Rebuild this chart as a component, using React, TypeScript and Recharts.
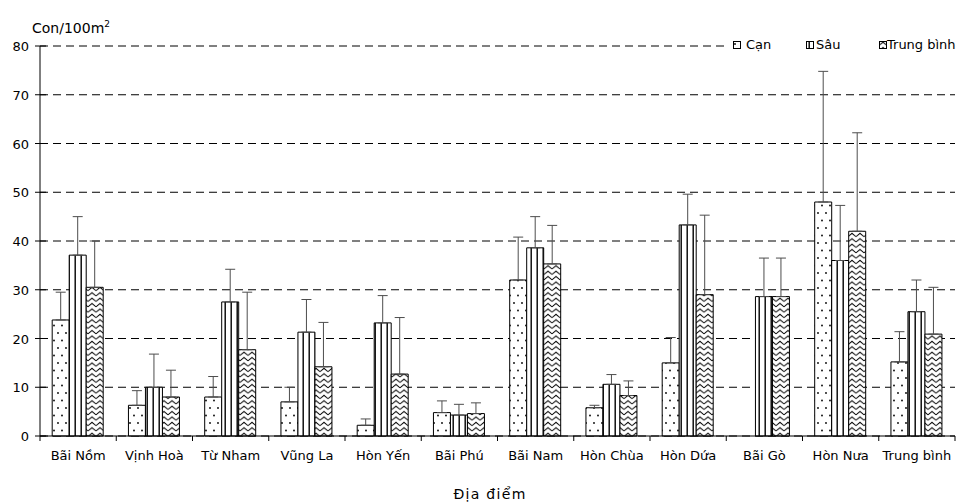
import { BarChart, Bar, XAxis, YAxis, CartesianGrid, ErrorBar, Legend } from "recharts";

const sites = [
  "Bãi Nồm", "Vịnh Hoà", "Từ Nham", "Vũng La", "Hòn Yến", "Bãi Phú",
  "Bãi Nam", "Hòn Chùa", "Hòn Dứa", "Bãi Gò", "Hòn Nưa", "Trung bình",
];

// mean density (con/100m2) and upper standard deviation per site
const can = [23.8, 6.3, 8.0, 7.0, 2.2, 4.8, 32.0, 5.8, 15.0, null, 48.0, 15.2];
const canSd = [5.7, 3.0, 4.2, 3.0, 1.3, 2.4, 8.8, 0.5, 5.2, null, 26.8, 6.2];
const sau = [37.1, 10.0, 27.5, 21.3, 23.2, 4.3, 38.6, 10.6, 43.3, 28.6, 36.0, 25.5];
const sauSd = [7.9, 6.8, 6.7, 6.7, 5.6, 2.2, 6.4, 2.0, 6.3, 7.9, 11.3, 6.5];
const tb = [30.5, 8.0, 17.7, 14.2, 12.7, 4.6, 35.3, 8.3, 29.0, 28.6, 42.0, 20.9];
const tbSd = [9.5, 5.5, 11.8, 9.1, 11.6, 2.2, 7.9, 3.0, 16.3, 7.9, 20.2, 9.6];

const yTicks = [0, 10, 20, 30, 40, 50, 60, 70, 80];

const series = [
  { key: "can", name: "Cạn", fill: "url(#pat-dots)" },
  { key: "sau", name: "Sâu", fill: "url(#pat-vlines)" },
  { key: "tb", name: "Trung bình", fill: "url(#pat-wave)" },
];

const data = sites.map((site, i) => ({
  site,
  can: can[i],
  canSd: can[i] == null ? undefined : [0, canSd[i]],
  sau: sau[i],
  sauSd: [0, sauSd[i]],
  tb: tb[i],
  tbSd: [0, tbSd[i]],
}));

const W = 961;
const H = 502;
const LEFT = 40;
const RIGHT = 6;
const LEGEND_H = 16;
const BAND = (W - LEFT - RIGHT) / sites.length;
const FONT = "'DejaVu Sans', 'Liberation Sans', Arial, sans-serif";

// legend item offsets inside the legend box: [icon x, text x]
const legendPos = [
  [6, 19],
  [79, 89],
  [152, 160],
];

function SiteTick(props: any) {
  const { x, y, payload, index } = props;
  const last = index === sites.length - 1;
  return (
    <g>
      <line x1={x - BAND / 2} x2={x - BAND / 2} y1={y} y2={y + 5} stroke="#000" />
      {last && <line x1={x + BAND / 2} x2={x + BAND / 2} y1={y} y2={y + 5} stroke="#000" />}
      <text x={x} y={y + 24} textAnchor="middle" fontSize={13} fill="#000" fontFamily={FONT}>
        {payload.value}
      </text>
    </g>
  );
}

function ValueTick(props: any) {
  const { x, y, payload } = props;
  return (
    <g>
      <line x1={x - 5} x2={x + 6} y1={y} y2={y} stroke="#000" />
      <text x={x - 11} y={y + 5} textAnchor="end" fontSize={13} fill="#000" fontFamily={FONT}>
        {payload.value}
      </text>
    </g>
  );
}

function LegendBox({ payload }: any) {
  return (
    <div
      style={{
        position: "relative",
        height: LEGEND_H,
        background: "#fff",
        fontSize: 13,
        fontFamily: FONT,
        color: "#000",
      }}
    >
      {(payload ?? []).map((p: any, i: number) => {
        const s = series.find((d) => d.name === p.value);
        return (
          <div key={i}>
            <svg width={8} height={8} style={{ position: "absolute", left: legendPos[i][0], top: 4 }}>
              <rect x={0.5} y={0.5} width={7} height={7} fill={s?.fill} stroke="#000" />
            </svg>
            <span style={{ position: "absolute", left: legendPos[i][1], top: 0, whiteSpace: "nowrap" }}>
              {p.value}
            </span>
          </div>
        );
      })}
    </div>
  );
}

export default function App() {
  return (
    <div style={{ position: "absolute", left: 0, top: 0, background: "#fff", fontFamily: FONT }}>
      <BarChart
        width={W}
        height={H}
        data={data}
        margin={{ top: 46 - LEGEND_H, right: RIGHT, left: 0, bottom: 36 }}
        barCategoryGap="16%"
        barGap={0}
      >
        <defs>
          <pattern id="pat-dots" patternUnits="userSpaceOnUse" width={8} height={15}>
            <rect width={8} height={15} fill="#fff" />
            <circle cx={2} cy={3} r={0.9} fill="#000" />
            <circle cx={6} cy={10.5} r={0.9} fill="#000" />
          </pattern>
          <pattern id="pat-vlines" patternUnits="userSpaceOnUse" width={6} height={6}>
            <rect width={6} height={6} fill="#fff" />
            <rect x={2.5} width={1.4} height={6} fill="#000" />
          </pattern>
          <pattern id="pat-wave" patternUnits="userSpaceOnUse" width={8} height={5.4}>
            <rect width={8} height={5.4} fill="#fff" />
            <path d="M0,4.4 L4,1.2 L8,4.4" stroke="#000" strokeWidth={1} fill="none" />
          </pattern>
        </defs>
        <CartesianGrid vertical={false} stroke="#000" strokeDasharray="8 5" />
        <XAxis
          dataKey="site"
          axisLine={{ stroke: "#000" }}
          tickLine={false}
          tickSize={0}
          tickMargin={0}
          height={30}
          interval={0}
          tick={<SiteTick />}
          label={{
            content: () => (
              <text x={490} y={499} textAnchor="middle" fontSize={14} letterSpacing={1.3} fill="#000" fontFamily={FONT}>
                Địa điểm
              </text>
            ),
          }}
        />
        <YAxis
          width={LEFT}
          domain={[0, 80]}
          ticks={yTicks}
          axisLine={{ stroke: "#000" }}
          tickLine={false}
          tickSize={0}
          tickMargin={0}
          tick={<ValueTick />}
          label={{
            content: () => (
              <text x={32} y={33} fontSize={14} fill="#000" fontFamily={FONT}>
                Con/100m<tspan dy={-6} fontSize={9}>2</tspan>
              </text>
            ),
          }}
        />
        <Legend
          verticalAlign="top"
          align="right"
          layout="horizontal"
          content={<LegendBox />}
          wrapperStyle={{ top: 37, left: 727, width: 234, height: LEGEND_H }}
        />
        {series.map((s) => (
          <Bar
            key={s.key}
            dataKey={s.key}
            name={s.name}
            fill={s.fill}
            stroke="#000"
            strokeWidth={1}
            isAnimationActive={false}
          >
            <ErrorBar dataKey={`${s.key}Sd`} width={5} stroke="#4d4d4d" strokeWidth={1} direction="y" />
          </Bar>
        ))}
      </BarChart>
    </div>
  );
}
